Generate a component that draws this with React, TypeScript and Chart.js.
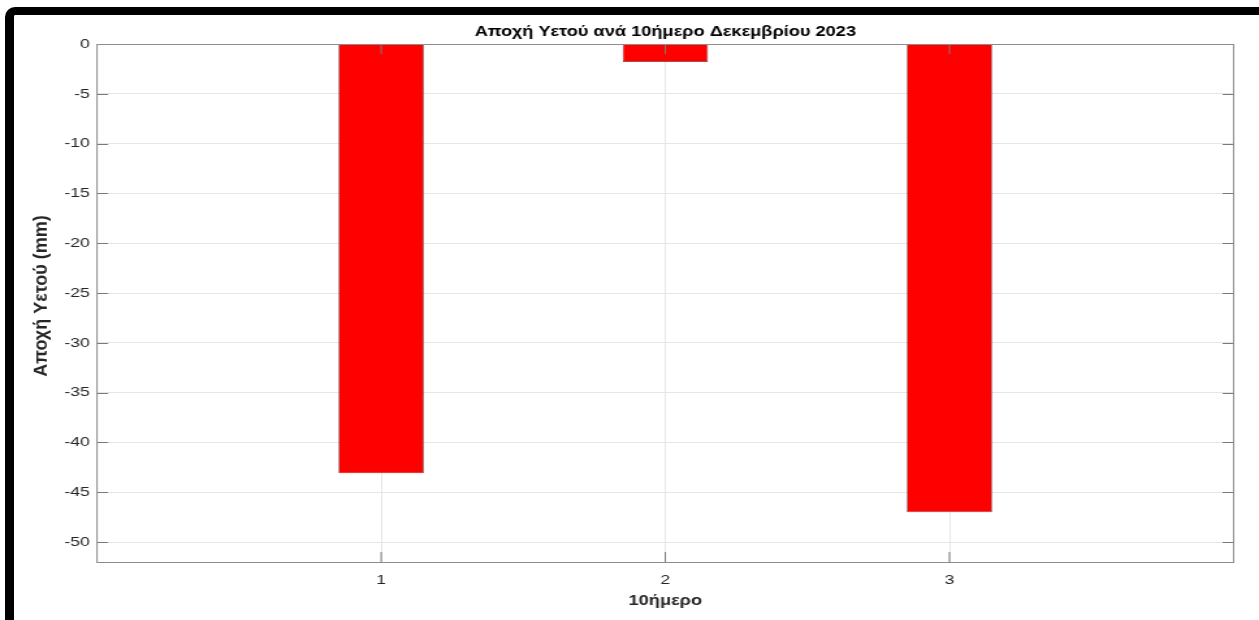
import React, { useEffect, useRef } from "react";
import { Chart, registerables } from "chart.js";

Chart.register(...registerables);

// ---- data ----
const categories = [1, 2, 3];
const deficitMm = [-43.1, -1.8, -47.0];
const xTickValues = [1, 2, 3];
const yTickValues = [0, -5, -10, -15, -20, -25, -30, -35, -40, -45, -50];
const chartTitle = "Αποχή Υετού ανά 10ήμερο Δεκεμβρίου 2023";
const xAxisTitle = "10ήμερο";
const yAxisTitle = "Αποχή Υετού (mm)";

const FONT = "'Liberation Sans', Arial, Helvetica, sans-serif";
const TEXT = "#262626";

// the reference figure is stretched horizontally; emulate by drawing on a
// narrower canvas that is displayed at full width
const VIEW_W = 1259;
const VIEW_H = 620;
const STRETCH_X = 1.3;
const CANVAS_W = Math.round(VIEW_W / STRETCH_X);

const boxPlugin = {
  id: "matlabBox",
  afterDatasetsDraw(chart: any) {
    const { ctx, chartArea } = chart;
    const xs = chart.scales.x;
    const ys = chart.scales.y;
    const { left, right, top, bottom } = chartArea;
    const lenH = 8.5;
    const lenV = 10;
    ctx.save();
    ctx.lineWidth = 1;
    ctx.strokeStyle = "#7a7a7a";
    ctx.beginPath();
    for (const v of yTickValues) {
      const py = Math.round(ys.getPixelForValue(v)) + 0.5;
      ctx.moveTo(left, py);
      ctx.lineTo(left + lenH, py);
      ctx.moveTo(right, py);
      ctx.lineTo(right - lenH, py);
    }
    for (const v of xTickValues) {
      const px = xs.getPixelForValue(v);
      ctx.moveTo(px, bottom);
      ctx.lineTo(px, bottom - lenV);
      ctx.moveTo(px, top);
      ctx.lineTo(px, top + lenV);
    }
    ctx.stroke();
    ctx.strokeStyle = "#8c8c8c";
    ctx.lineWidth = 1;
    ctx.strokeRect(left, Math.round(top) + 0.5, right - left, Math.round(bottom - top));
    ctx.restore();
  },
  afterDraw(chart: any) {
    // y-axis title drawn with undistorted proportions
    const { ctx, chartArea } = chart;
    ctx.save();
    ctx.translate(41.5 / STRETCH_X, (chartArea.top + chartArea.bottom) / 2 - 7);
    ctx.scale(1 / STRETCH_X, 1);
    ctx.rotate(-Math.PI / 2);
    ctx.fillStyle = TEXT;
    ctx.font = `bold 18px ${FONT}`;
    ctx.textAlign = "center";
    ctx.textBaseline = "middle";
    ctx.fillText(yAxisTitle, 0, 0);
    ctx.restore();
  },
};

export default function App() {
  const canvasRef = useRef<HTMLCanvasElement | null>(null);

  useEffect(() => {
    const canvas = canvasRef.current;
    if (!canvas) return;
    const chart = new Chart(canvas, {
      type: "bar",
      data: {
        datasets: [
          {
            data: categories.map((c, i) => ({ x: c, y: deficitMm[i] })),
            backgroundColor: "#ff0000",
            borderColor: "rgba(70,20,20,0.85)",
            borderWidth: 0.7,
            barPercentage: 0.3,
            categoryPercentage: 1,
          },
        ],
      },
      options: {
        animation: false,
        responsive: false,
        devicePixelRatio: 1,
        layout: { padding: { left: 0, right: CANVAS_W - 1233 / STRETCH_X, top: 23.6, bottom: 0 } },
        plugins: {
          legend: { display: false },
          tooltip: { enabled: false },
          title: {
            display: true,
            text: chartTitle,
            fullSize: false,
            color: "#000",
            font: { family: FONT, size: 14, weight: "bold" },
            padding: { top: 0, bottom: 3.6 },
          },
        },
        scales: {
          x: {
            type: "linear",
            min: 0,
            max: 4,
            offset: false,
            afterBuildTicks: (scale: any) => {
              scale.ticks = xTickValues.map((v) => ({ value: v }));
            },
            afterFit: (scale: any) => {
              scale.height = 58;
            },
            ticks: {
              color: TEXT,
              font: { family: FONT, size: 13.5 },
              padding: 10,
              maxRotation: 0,
              autoSkip: false,
              callback: (v: any) => String(v),
            },
            grid: { color: "#e6e6e6", drawTicks: false, offset: false },
            border: { display: false },
            title: {
              display: true,
              text: xAxisTitle,
              color: TEXT,
              font: { family: FONT, size: 14, weight: "bold" },
              padding: { top: 0, bottom: 10.6 },
            },
          },
          y: {
            type: "linear",
            min: -52,
            max: 0,
            afterBuildTicks: (scale: any) => {
              scale.ticks = yTickValues.map((v) => ({ value: v }));
            },
            afterFit: (scale: any) => {
              scale.width = 97 / STRETCH_X;
            },
            ticks: {
              color: TEXT,
              font: { family: FONT, size: 13.5 },
              padding: 5.5,
              autoSkip: false,
            },
            grid: { color: "#e6e6e6", drawTicks: false },
            border: { display: false },
            title: { display: false, text: yAxisTitle },
          },
        },
      },
      plugins: [boxPlugin],
    } as any);
    return () => chart.destroy();
  }, []);

  return (
    <div
      style={{
        position: "fixed",
        left: 0,
        top: 0,
        width: VIEW_W,
        height: VIEW_H,
        background: "#ffffff",
        overflow: "hidden",
      }}
    >
      <div
        style={{
          position: "absolute",
          left: 5,
          top: 7,
          width: 1300,
          height: 700,
          borderTop: "8px solid #000",
          borderLeft: "9px solid #000",
          borderTopLeftRadius: 10,
          boxSizing: "border-box",
        }}
      />
      <canvas
        ref={canvasRef}
        width={CANVAS_W}
        height={VIEW_H}
        style={{ position: "absolute", left: 0, top: 0, width: VIEW_W, height: VIEW_H, display: "block" }}
      />
    </div>
  );
}
